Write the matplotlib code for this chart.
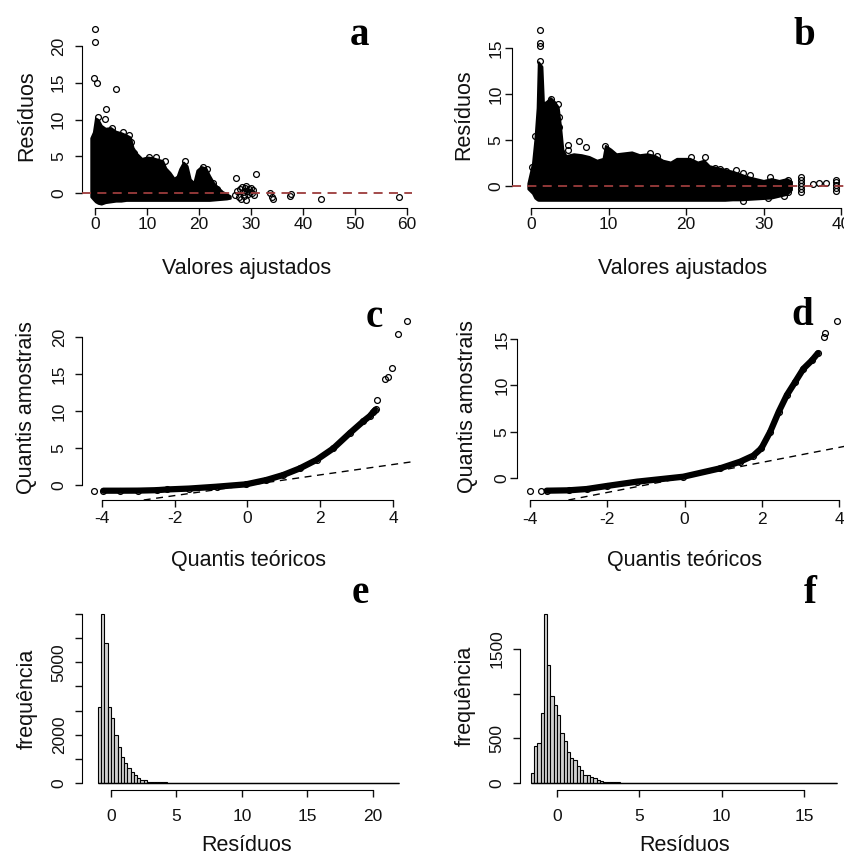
import numpy as np
import matplotlib.pyplot as plt

plt.rcParams['font.family'] = ['Liberation Sans', 'DejaVu Sans']

W, H = 845, 857

# ---------------- a: residuos x valores ajustados (modelo 1)
a_cloud_x = [-0.8, -0.3, 0.1, 0.6, 1.2, 2.0, 3.0, 4.0, 5.0, 6.0, 6.8, 7.3, 8.0, 9.0, 10.0, 11.0,
             12.0, 13.0, 13.6, 14.4, 15.2, 15.8, 16.3, 17.0, 17.7, 18.3, 19.0, 19.6, 20.4, 21.3,
             22.0, 22.8, 23.6, 24.5, 25.3, 26.0]
a_cloud_hi = [7.5, 8.3, 10.2, 10.0, 9.2, 8.8, 8.9, 8.4, 8.2, 7.9, 7.6, 6.2, 5.4, 4.7, 4.9, 4.8,
              4.6, 4.4, 3.4, 2.8, 2.0, 2.3, 3.3, 4.2, 3.7, 1.9, 1.4, 3.1, 3.6, 3.4,
              2.4, 1.4, 0.8, 0.2, -0.1, -0.4]
a_cloud_lo = [-0.5, -0.9, -1.2, -1.4, -1.5, -1.3, -1.2, -1.1, -1.1, -1.0, -1.0, -1.0, -1.0, -1.0, -1.0, -1.0,
              -1.0, -1.0, -1.0, -1.0, -1.0, -1.0, -1.0, -1.0, -1.0, -1.0, -1.0, -1.0, -1.0, -1.0,
              -1.0, -0.95, -0.9, -0.85, -0.8, -0.7]
a_pts_x = [0.0, 0.0, -0.1, 0.45, 4.0, 2.05, 1.9, 0.6, 3.2, 5.3, 6.6, 6.9, 7.5, 10.3, 11.7, 12.5,
           13.5, 17.3, 20.8, 21.5, 22.7, 23.4, 27.2, 31.0, 27.0, 27.3, 27.6, 27.9, 28.2, 28.4,
           28.6, 28.8, 29.0, 29.2, 29.4, 29.6, 29.8, 30.0, 30.3, 30.5, 28.0, 29.0, 30.2,
           33.7, 34.0, 34.2, 37.6, 37.5, 43.4, 58.5]
a_pts_y = [22.3, 20.6, 15.7, 14.9, 14.1, 11.4, 10.1, 10.4, 8.8, 8.3, 7.9, 6.9, 5.5, 4.9, 4.9, 4.0,
           4.4, 4.3, 3.6, 3.3, 1.3, 0.6, 2.1, 2.6, -0.3, 0.3, -0.6, 0.5, 0.8, 0.2,
           -0.4, 0.7, 0.9, 0.3, -0.2, 0.6, 0.1, 0.7, 0.4, -0.3, -0.8, -0.9, 0.0,
           0.0, -0.6, -0.8, -0.1, -0.35, -0.75, -0.5]

# ---------------- b: residuos x valores ajustados (modelo 2)
b_cloud_x = [-0.4, 0.2, 0.5, 0.8, 0.95, 1.4, 1.6, 2.0, 2.5, 3.0, 3.5, 3.8, 4.1, 4.5, 5.5, 6.5,
             7.5, 8.5, 9.3, 9.6, 10.3, 11.0, 12.0, 13.0, 14.0, 15.0, 16.0, 17.0, 18.0, 18.8,
             19.5, 20.5, 21.5, 22.3, 23.0, 24.0, 25.0, 26.0, 27.0, 28.0, 29.0, 30.0, 31.0,
             32.0, 33.0, 33.6]
b_cloud_hi = [0.3, 2.5, 5.0, 8.5, 13.5, 13.0, 9.0, 9.2, 9.6, 9.2, 8.6, 6.5, 4.0, 3.3, 3.5, 3.4,
              3.2, 2.8, 3.0, 4.4, 4.0, 3.5, 3.6, 3.7, 3.4, 3.5, 3.3, 2.8, 2.6, 3.0,
              3.0, 3.0, 2.6, 2.8, 2.2, 2.0, 1.8, 1.6, 1.3, 1.0, 0.8, 0.6, 0.8,
              0.6, 0.8, 0.5]
b_cloud_lo = [-0.3, -0.8, -1.3, -1.5, -1.55, -1.55, -1.55, -1.55, -1.55, -1.55, -1.55, -1.55, -1.55, -1.55, -1.55, -1.55,
              -1.55, -1.55, -1.55, -1.55, -1.55, -1.55, -1.55, -1.55, -1.55, -1.55, -1.55, -1.55, -1.55, -1.55,
              -1.55, -1.55, -1.55, -1.55, -1.55, -1.55, -1.55, -1.5, -1.5, -1.45, -1.4, -1.35, -1.3,
              -1.1, -0.9, -0.4]
b_pts_x = [1.2, 1.2, 1.2, 1.2, 2.6, 3.5, 3.6, 3.6, 6.2, 4.8, 7.05, 4.8, 0.5, 0.17, 9.5, 8.2, 8.6,
           15.4, 16.2, 20.7, 22.5, 23.7, 24.4, 25.2, 26.5, 27.4, 28.3, 30.8, 27.4, 30.6, 32.6,
           33.2, 33.2, 33.2, 34.8, 34.8, 34.9, 34.9, 34.9, 34.9, 36.4, 37.2, 38.1,
           39.4, 39.4, 39.4, 39.4, 39.4]
b_pts_y = [17.0, 15.5, 15.2, 13.6, 9.5, 8.9, 7.5, 6.4, 4.9, 4.5, 4.2, 3.9, 5.4, 2.1, 4.4, 2.5, 2.4,
           3.55, 3.26, 3.2, 3.1, 2.0, 1.8, 1.6, 1.7, 1.45, 1.2, 1.0, -1.6, -1.34, -1.09,
           -0.6, 0.3, 0.65, 1.0, 0.6, 0.3, 0.0, -0.3, -0.6, 0.2, 0.35, 0.35,
           0.7, 0.4, 0.1, -0.2, -0.5]

# ---------------- c, d: graficos quantil-quantil
c_theo = [-3.96, -3.5, -3.0, -2.5, -2.2, -1.6, -0.85, -0.04, 0.52, 0.98, 1.44, 1.9, 2.36, 2.81, 3.18, 3.36, 3.5]
c_samp = [-0.77, -0.77, -0.76, -0.7, -0.6, -0.48, -0.23, 0.09, 0.68, 1.35, 2.25, 3.4, 4.95, 7.0, 8.6, 9.3, 10.1]
c_out_x = [-4.21, 3.45, 3.52, 3.57, 3.78, 3.86, 3.97, 4.14, 4.39]
c_out_y = [-0.77, 9.9, 10.3, 11.5, 14.3, 14.6, 15.8, 20.4, 22.2]
c_line = (-0.03, 0.70)   # intercepto, inclinacao (qqline)

d_theo = [-3.57, -3.0, -2.53, -2.01, -1.24, -0.03, 0.92, 1.44, 1.78, 1.99, 2.22, 2.44, 2.65, 2.87, 3.08, 3.3, 3.45]
d_samp = [-1.37, -1.33, -1.19, -0.86, -0.4, 0.14, 1.04, 1.76, 2.41, 3.2, 5.0, 7.15, 8.95, 10.4, 11.8, 12.7, 13.45]
d_out_x = [-4.0, -3.72, 3.6, 3.64, 3.95]
d_out_y = [-1.37, -1.37, 15.2, 15.6, 16.9]
d_line = (0.06, 0.81)

# ---------------- e, f: histogramas dos residuos
e_start, e_width, e_end = -1.0, 0.25, 22.0
e_counts = [3160, 7000, 5790, 3140, 2680, 1990, 1510, 1090, 840, 610, 470, 330,
            195, 125, 110, 60, 55, 45, 35, 30, 25, 20, 15]
e_tail = [5.3, 6.1, 7.2, 8.4, 10.1, 10.4, 11.4, 14.1, 14.9, 15.7, 20.6, 21.9]

f_start, f_width, f_end = -1.6, 0.2, 17.0
f_counts = [110, 410, 445, 780, 1890, 1320, 975, 875, 760, 565, 465, 350, 275, 255,
            195, 145, 95, 88, 70, 52, 35, 18, 14, 11, 9, 7, 6, 5, 4, 3, 3, 2, 2, 2,
            1, 1, 0, 1, 1, 1]
f_tail = [6.9, 7.6, 8.8, 9.5, 11.7, 13.2, 15.2, 15.5, 16.9]


fig = plt.figure(figsize=(W / 100, H / 100), dpi=100)


def make_ax(box, xcal, ycal):
    l, r, t, b = box
    ax = fig.add_axes([l / W, 1 - b / H, (r - l) / W, (b - t) / H])
    (x1, p1), (x2, p2) = xcal
    k = (p2 - p1) / (x2 - x1)
    ax.set_xlim(x1 + (l - p1) / k, x1 + (r - p1) / k)
    (y1, p1), (y2, p2) = ycal
    k = (p2 - p1) / (y2 - y1)
    ax.set_ylim(y1 + (b - p1) / k, y1 + (t - p1) / k)
    ax.patch.set_alpha(0)
    return ax


def style(ax, xt, yt, xlab, ylab, ylabels=None, xpad=2.0, ypad=6.0, xlab_y=-0.3, ylab_x=-0.14):
    for s in ['top', 'right']:
        ax.spines[s].set_visible(False)
    ax.spines['left'].set_bounds(yt[0], yt[-1])
    ax.spines['bottom'].set_bounds(xt[0], xt[-1])
    ax.set_xticks(xt)
    ax.set_yticks(yt)
    ax.set_xticklabels([str(v) for v in xt])
    if ylabels is None:
        ylabels = [str(v) for v in yt]
    ax.set_yticklabels(ylabels, va='center')
    ax.tick_params(direction='out', length=5, width=1, labelsize=12.5, colors='#111111')
    ax.tick_params(axis='x', pad=xpad)
    ax.tick_params(axis='y', labelrotation=90, pad=ypad)
    ax.set_xlabel(xlab, fontsize=15.5, color='#111111')
    ax.set_ylabel(ylab, fontsize=15.5, color='#111111')
    ax.xaxis.set_label_coords(0.5, xlab_y)
    ax.yaxis.set_label_coords(ylab_x, 0.5)


def letter(txt, x, y):
    fig.text(x / W, 1 - y / H, txt, fontfamily='Liberation Serif', fontweight='bold',
             fontsize=28, ha='center', va='baseline')


circ = dict(marker='o', ms=4.2, mfc='none', mec='black', mew=0.9, ls='none', clip_on=False)
zero_line = dict(color='#9c3c3c', ls='--', lw=1.3, dashes=(5, 3.5), zorder=5)

# a
ax = make_ax((82, 412, 24, 208), ((0, 95), (60, 407)), ((0, 193), (20, 46)))
ax.fill_between(a_cloud_x, a_cloud_lo, a_cloud_hi, color='black', lw=1.5, edgecolor='black')
ax.plot(a_pts_x, a_pts_y, **circ)
ax.axhline(0, **zero_line)
style(ax, [0, 10, 20, 30, 40, 50, 60], [0, 5, 10, 15, 20], 'Valores ajustados', 'Resíduos',
      xpad=1.5, ypad=6.5, xlab_y=-0.27, ylab_x=-0.135)
letter('a', 360, 45)

# b
ax = make_ax((512, 853, 22, 208), ((0, 531), (40, 841)), ((0, 186), (15, 48)))
ax.fill_between(b_cloud_x, b_cloud_lo, b_cloud_hi, color='black', lw=1.5, edgecolor='black')
ax.plot(b_pts_x, b_pts_y, **circ)
ax.axhline(0, **zero_line)
style(ax, [0, 10, 20, 30, 40], [0, 5, 10, 15], 'Valores ajustados', 'Resíduos',
      xpad=1.5, ypad=1.0, xlab_y=-0.27, ylab_x=-0.11)
letter('b', 804, 45)

# c
ax = make_ax((82, 415, 315, 500), ((-4, 102), (4, 393)), ((0, 485), (20, 337)))
ax.plot(c_theo, c_samp, color='black', lw=4.5, solid_capstyle='round', solid_joinstyle='round')
ax.plot(c_theo, c_samp, **circ)
ax.plot(c_out_x, c_out_y, **circ)
ax.axline((0, c_line[0]), slope=c_line[1], color='black', ls='--', lw=1, dashes=(5, 4))
style(ax, [-4, -2, 0, 2, 4], [0, 5, 10, 15, 20], 'Quantis teóricos', 'Quantis amostrais',
      xpad=3, ypad=6, xlab_y=-0.27, ylab_x=-0.135)
letter('c', 374, 327)

# d
ax = make_ax((517, 852, 313, 500), ((-4, 530), (4, 839)), ((0, 478), (15, 339)))
ax.plot(d_theo, d_samp, color='black', lw=4.5, solid_capstyle='round', solid_joinstyle='round')
ax.plot(d_theo, d_samp, **circ)
ax.plot(d_out_x, d_out_y, **circ)
ax.axline((0, d_line[0]), slope=d_line[1], color='black', ls='--', lw=1, dashes=(5, 4))
style(ax, [-4, -2, 0, 2, 4], [0, 5, 10, 15], 'Quantis teóricos', 'Quantis amostrais',
      xpad=4, ypad=0.5, xlab_y=-0.27, ylab_x=-0.115)
letter('d', 802, 325)

# e
e_edges = np.round(np.arange(e_start, e_end + e_width / 2, e_width), 3)
e_all = np.zeros(len(e_edges) - 1)
e_all[:len(e_counts)] = e_counts
e_all += np.histogram(e_tail, bins=e_edges)[0]
ax = make_ax((82, 411, 607, 790), ((0, 111), (20, 373)), ((0, 783), (7000, 614)))
ax.bar(e_edges[:-1], e_all, width=np.diff(e_edges), align='edge', color='#cfcfcf',
       edgecolor='black', linewidth=0.8)
ax.hlines(0, e_edges[0], e_edges[-1], color='black', lw=1)
e_yt = [0, 1000, 2000, 3000, 4000, 5000, 6000, 7000]
style(ax, [0, 5, 10, 15, 20], e_yt, 'Resíduos', 'frequência',
      ylabels=['0', '', '2000', '', '', '5000', '', ''], xpad=9, ypad=6, xlab_y=-0.245, ylab_x=-0.135)
letter('e', 360, 603)

# f
f_edges = np.round(np.arange(f_start, f_end + f_width / 2, f_width), 3)
f_all = np.zeros(len(f_edges) - 1)
f_all[:len(f_counts)] = f_counts
f_all += np.histogram(f_tail, bins=f_edges)[0]
ax = make_ax((520, 849, 601, 790), ((0, 557), (15, 804)), ((0, 783), (1500, 649)))
ax.bar(f_edges[:-1], f_all, width=np.diff(f_edges), align='edge', color='#cfcfcf',
       edgecolor='black', linewidth=0.8)
ax.hlines(0, f_edges[0], f_edges[-1], color='black', lw=1)
style(ax, [0, 5, 10, 15], [0, 500, 1000, 1500], 'Resíduos', 'frequência',
      ylabels=['0', '500', '', '1500'], xpad=9, ypad=6, xlab_y=-0.24, ylab_x=-0.135)
letter('f', 810, 603)

fig.savefig('out.png', dpi=100)
